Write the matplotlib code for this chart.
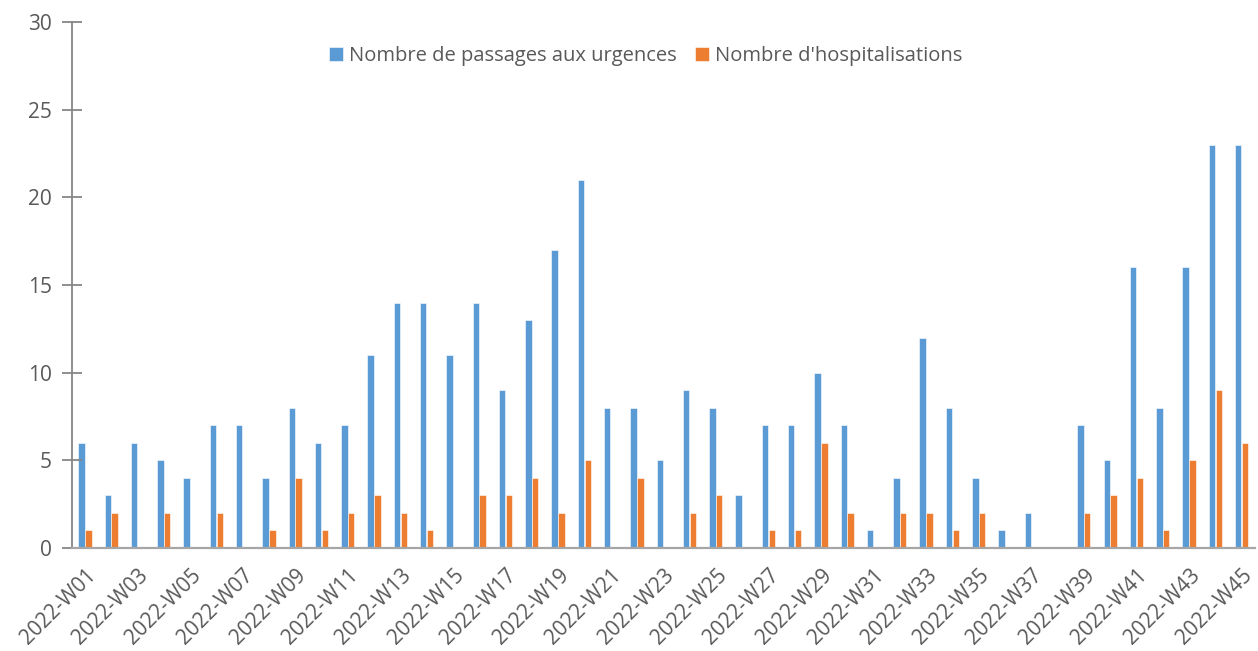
#!/usr/bin/env python3
import numpy as np
import matplotlib
matplotlib.use("Agg")
import matplotlib.pyplot as plt

# weekly counts, 2022-W01 .. 2022-W45
weeks = [f"2022-W{i:02d}" for i in range(1, 46)]
passages = [6, 3, 6, 5, 4, 7, 7, 4, 8, 6, 7, 11, 14, 14, 11, 14, 9, 13, 17, 21,
            8, 8, 5, 9, 8, 3, 7, 7, 10, 7, 1, 4, 12, 8, 4, 1, 2, 0, 7, 5,
            16, 8, 16, 23, 23]
hospit = [1, 2, 0, 2, 0, 2, 0, 1, 4, 1, 2, 3, 2, 1, 0, 3, 3, 4, 2, 5,
          0, 4, 0, 2, 3, 0, 1, 1, 6, 2, 0, 2, 2, 1, 2, 0, 0, 0, 2, 3,
          4, 1, 5, 9, 6]

BLUE = "#5B9BD5"
ORANGE = "#ED7D31"
GREY = "#595959"

plt.rcParams['font.family'] = ['Open Sans', 'DejaVu Sans']

fig = plt.figure(figsize=(12.58, 6.51), dpi=100)
ax = fig.add_axes([72/1258, 103/651, 1183/1258, 526/651])

x = np.arange(len(weeks))
w = 0.245
ax.bar(x - 0.14, passages, width=w, color=BLUE, edgecolor="white", linewidth=0.4,
       label="Nombre de passages aux urgences")
ax.bar(x + 0.12, hospit, width=w, color=ORANGE, edgecolor="white", linewidth=0.4,
       label="Nombre d'hospitalisations")

ax.set_xlim(-0.5, len(weeks) - 0.5)
ax.set_ylim(0, 30)
ax.set_yticks(range(0, 31, 5))

ax.set_xticks(x[::2])
ax.set_xticklabels(weeks[::2], rotation=45, ha="right", rotation_mode="anchor",
                   fontsize=15, color=GREY)
ax.tick_params(axis="x", length=0, pad=12)
ax.tick_params(axis="y", direction="inout", length=15, width=1.3, color="#868686",
               labelsize=15, labelcolor=GREY, pad=7)

for s in ["top", "right"]:
    ax.spines[s].set_visible(False)
ax.spines["left"].set_color("#868686")
ax.spines["left"].set_linewidth(1.3)
ax.spines["bottom"].set_color("#A6A6A6")
ax.spines["bottom"].set_linewidth(1.6)

ax.legend(loc="center", bbox_to_anchor=(0.485, 0.936), ncol=2, frameon=False,
          fontsize=14.5, handlelength=0.7, handleheight=0.7, handletextpad=0.3,
          columnspacing=0.9, labelcolor=GREY)

fig.savefig("out.png", dpi=100)
